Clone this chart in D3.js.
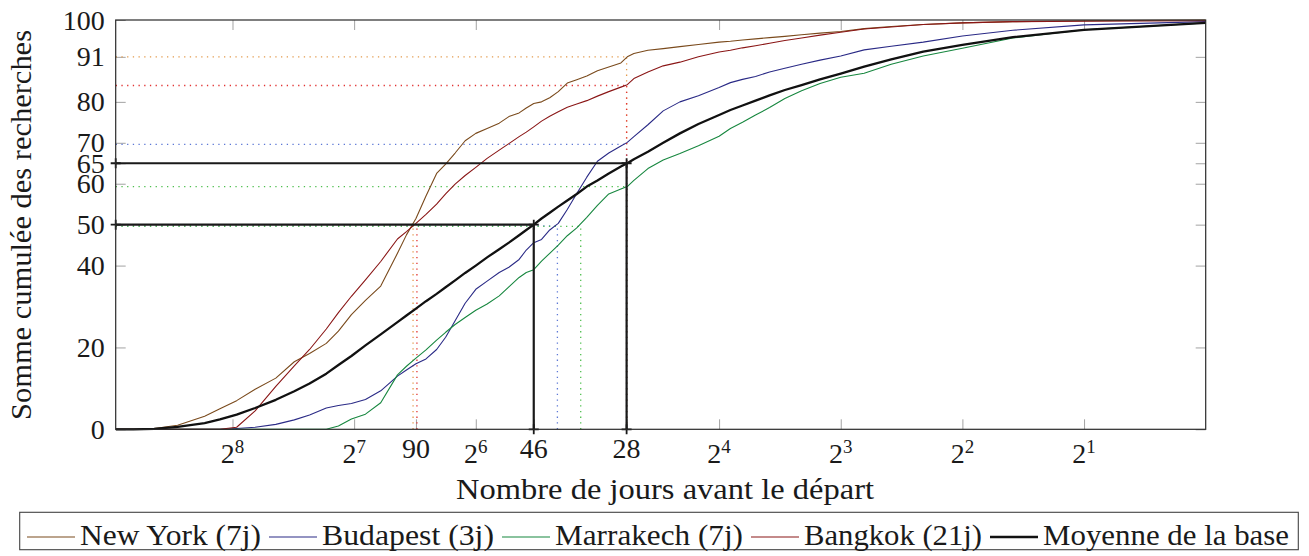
<!DOCTYPE html>
<html>
<head>
<meta charset="utf-8">
<script src="https://cdn.jsdelivr.net/npm/d3@7"></script>
<style>
  body { margin: 0; background: #fff; }
  svg text { font-family: "Liberation Serif", "DejaVu Serif", serif; fill: #1a1a1a; }
</style>
</head>
<body>
<svg id="chart" width="1309" height="556"></svg>
<script>
// Days before departure (shared x grid for every series)
const dayGrid = [1, 2, 3, 4, 5, 6, 7, 8, 9, 10, 11, 12, 13, 14, 15, 16, 18, 20, 22, 24, 26, 27, 28, 30, 32, 34, 36, 38, 40, 42, 44, 46, 48, 50, 53, 56, 60, 64, 68, 72, 76, 80, 85, 90, 95, 100, 110, 120, 130, 140, 150, 165, 180, 200, 225, 250, 275, 300, 350, 400, 450, 498];

// Cumulative share of searches (%) for each destination, aligned with dayGrid
const newYork = [100, 99.8, 99.6, 99.3, 98.9, 98.4, 97.9, 97.2, 96.8, 96.4, 96.0, 95.7, 95.4, 95.1, 94.8, 94.6, 94.0, 93.5, 93.0, 92.6, 91.8, 91.0, 89.5, 88.5, 87.6, 86.3, 85.4, 84.6, 82.5, 81.0, 80.0, 79.6, 78.5, 77.3, 76.4, 74.8, 73.5, 72.3, 70.5, 67.5, 64.8, 62.5, 57.0, 51.5, 47.5, 43.0, 35.0, 31.5, 28.0, 24.0, 21.0, 18.5, 16.5, 12.5, 9.8, 7.0, 5.0, 3.2, 1.0, 0.2, 0, 0];
const budapest = [99.6, 98.8, 97.5, 96.1, 94.6, 93.6, 92.7, 91.2, 90.2, 89.2, 88.2, 87.3, 86.2, 85.5, 84.7, 83.5, 81.5, 80.0, 77.8, 74.4, 71.5, 70.1, 69.2, 67.5, 65.5, 61.6, 57.6, 53.7, 50.3, 48.7, 46.4, 45.6, 43.8, 41.5, 39.6, 38.3, 36.2, 34.2, 30.8, 26.5, 22.5, 19.5, 17.2, 16.0, 14.5, 13.0, 9.4, 7.3, 6.3, 5.8, 5.2, 3.5, 2.3, 1.2, 0.5, 0.2, 0, 0, 0, 0, 0, 0];
const marrakech = [99.3, 97.6, 95.6, 93.1, 91.2, 89.2, 87.0, 86.0, 84.5, 82.7, 80.8, 78.6, 76.8, 75.0, 73.5, 71.6, 69.3, 67.4, 65.8, 63.7, 60.8, 59.3, 58.7, 57.5, 54.7, 51.8, 49.2, 47.3, 45.0, 43.0, 41.1, 39.0, 38.3, 37.1, 34.8, 32.6, 30.6, 29.1, 27.3, 25.6, 23.7, 21.8, 19.4, 17.4, 15.4, 13.3, 6.5, 3.7, 2.5, 0.8, 0, 0, 0, 0, 0, 0, 0, 0, 0, 0, 0, 0];
const bangkok = [99.8, 99.7, 99.6, 99.3, 98.9, 98.3, 97.8, 97.0, 96.3, 95.6, 95.0, 94.3, 93.7, 93.2, 92.6, 92.2, 91.0, 89.7, 88.8, 87.3, 85.7, 84.2, 83.6, 82.5, 81.4, 80.3, 79.5, 78.7, 77.6, 76.5, 75.3, 73.9, 72.6, 71.5, 69.8, 68.2, 66.2, 64.0, 62.0, 59.9, 57.5, 55.0, 52.5, 50.3, 48.3, 46.5, 41.0, 36.5, 32.5, 28.5, 24.5, 19.5, 15.5, 10.5, 4.5, 0.5, 0, 0, 0, 0, 0, 0];
const moyenne = [99.3, 97.6, 95.8, 93.9, 92.3, 90.4, 88.6, 86.9, 85.5, 84.1, 82.9, 81.6, 80.3, 79.1, 78.0, 76.8, 74.6, 72.3, 70.0, 67.8, 66.0, 65.0, 64.2, 62.5, 60.8, 59.3, 57.5, 55.9, 54.4, 52.9, 51.5, 50.0, 48.7, 47.4, 45.6, 44.0, 42.0, 40.0, 38.2, 36.4, 34.7, 33.1, 31.3, 29.5, 27.8, 26.2, 23.2, 20.5, 17.9, 15.7, 13.6, 11.2, 9.3, 7.2, 5.2, 3.6, 2.4, 1.5, 0.6, 0.1, 0, 0];

const seriesNames = ["New York (7j)", "Budapest (3j)", "Marrakech (7j)", "Bangkok (21j)", "Moyenne de la base"];
const seriesValues = [newYork, budapest, marrakech, bangkok, moyenne];
const seriesColors = ["#7a4a1c", "#2a2a86", "#17873f", "#8a1616", "#111111"];
const guideColors = ["#e39a4c", "#5d78d6", "#4fbf4f", "#e23434"];

// Reading guides: day where each destination reaches 50 %, and its share at the 28-day mark
const cityHalfDay = [91.5, 40.2, 35.2, 89.5];
const cityHalfLevel = [50, 49.7, 49.6, 50];
const cityShareAt28 = [91, 69.6, 59.3, 84];
const meanHalfDay = 46;
const meanShareDay = 27.1;
const meanShare = 65;

// Axis ticks
const xPowerExps = [8, 7, 6, 4, 3, 2, 1];
const markDays = [90, 46, 27.1];
const markLabels = ["90", "46", "28"];
const yTicks = [0, 20, 40, 50, 60, 65, 70, 80, 91, 100];

const svg = d3.select("#chart");
const L = 115.7, R = 1205.7, T = 20, B = 429.3;

const x = d3.scaleLog().base(2).domain([498, 1]).range([L, R]);
const y = d3.scaleLinear().domain([0, 100]).range([B, T]);

// tick marks, pointing inward on all four sides
const xTickVals = xPowerExps.map(e => Math.pow(2, e)).concat(markDays);
const tickColor = "#a3a3a3";
const axes = [
  [d3.axisBottom(x).tickValues(xTickVals), `translate(0,${B})`],
  [d3.axisTop(x).tickValues(xPowerExps.map(e => Math.pow(2, e))), `translate(0,${T})`],
  [d3.axisLeft(y).tickValues(yTicks), `translate(${L},0)`],
  [d3.axisRight(y).tickValues(yTicks), `translate(${R},0)`]
];
axes.forEach(([ax, tr]) => {
  const g = svg.append("g").attr("transform", tr)
    .call(ax.tickSize(-10).tickSizeOuter(0).tickFormat(""));
  g.select(".domain").remove();
  g.selectAll(".tick line").attr("stroke", tickColor).attr("stroke-width", 1);
});

// y tick labels
svg.append("g").selectAll("text").data(yTicks).join("text")
  .attr("x", L - 11).attr("y", d => y(d)).attr("dy", "0.34em")
  .attr("text-anchor", "end").attr("font-size", 28).text(d => d);

// x tick labels: powers of two with superscript exponents
const powLabels = svg.append("g").selectAll("text").data(xPowerExps).join("text")
  .attr("x", d => x(Math.pow(2, d))).attr("y", 463.3)
  .attr("text-anchor", "middle").attr("font-size", 28);
powLabels.append("tspan").text("2");
powLabels.append("tspan").attr("dy", -10).attr("font-size", 19).text(d => d);

svg.append("g").selectAll("text").data(markDays).join("text")
  .attr("x", d => x(d)).attr("y", 458.3)
  .attr("text-anchor", "middle").attr("font-size", 28)
  .text((d, i) => markLabels[i]);

// dotted reading guides per destination
const guides = svg.append("g").attr("fill", "none").attr("stroke-width", 1.3)
  .attr("stroke-dasharray", "1.3,4.4");
cityHalfDay.forEach((d, i) => {
  const c = guideColors[i];
  guides.append("line").attr("stroke", c)
    .attr("x1", L).attr("x2", x(d)).attr("y1", y(cityHalfLevel[i])).attr("y2", y(cityHalfLevel[i]));
  guides.append("line").attr("stroke", c)
    .attr("x1", x(d)).attr("x2", x(d)).attr("y1", y(0)).attr("y2", y(cityHalfLevel[i]));
  guides.append("line").attr("stroke", c)
    .attr("x1", L).attr("x2", x(meanShareDay)).attr("y1", y(cityShareAt28[i])).attr("y2", y(cityShareAt28[i]));
  guides.append("line").attr("stroke", c)
    .attr("x1", x(meanShareDay)).attr("x2", x(meanShareDay)).attr("y1", y(0)).attr("y2", y(cityShareAt28[i]));
});

// curves
const clip = svg.append("clipPath").attr("id", "plotclip").append("rect")
  .attr("x", L).attr("y", T - 2).attr("width", R - L).attr("height", B - T + 4);
const line = d3.line().x(d => x(d[0])).y(d => y(d[1]));
const curves = svg.append("g").attr("clip-path", "url(#plotclip)").attr("fill", "none");
[0, 1, 2, 3].forEach(i => {
  curves.append("path")
    .attr("d", line(dayGrid.map((d, k) => [d, seriesValues[i][k]])))
    .attr("stroke", seriesColors[i]).attr("stroke-width", 1.1).attr("stroke-linejoin", "round");
});

// mean-curve reading lines with "+" marks
const meanGuides = svg.append("g").attr("stroke", "#1a1a1a").attr("stroke-width", 2.2).attr("fill", "none");
const pathsMean = [
  [[L, y(meanShare)], [x(meanShareDay), y(meanShare)], [x(meanShareDay), y(0)]],
  [[L, y(50)], [x(meanHalfDay), y(50)], [x(meanHalfDay), y(0)]]
];
pathsMean.forEach(pts => {
  meanGuides.append("path").attr("d", d3.line()(pts));
  pts.forEach(p => {
    meanGuides.append("path").attr("stroke-width", 1.8)
      .attr("d", `M${p[0] - 5},${p[1]}H${p[0] + 5}M${p[0]},${p[1] - 5}V${p[1] + 5}`);
  });
});

curves.append("path")
  .attr("d", line(dayGrid.map((d, k) => [d, moyenne[k]])))
  .attr("stroke", seriesColors[4]).attr("stroke-width", 2.3).attr("stroke-linejoin", "round");

// frame
svg.append("rect").attr("x", L).attr("y", T).attr("width", R - L).attr("height", B - T)
  .attr("fill", "none").attr("stroke", "#2a2a2a").attr("stroke-width", 1.2);

// axis titles
svg.append("text").attr("x", 665).attr("y", 499).attr("text-anchor", "middle")
  .attr("font-size", 28.5).attr("textLength", 418).attr("lengthAdjust", "spacingAndGlyphs")
  .text("Nombre de jours avant le départ");
svg.append("text").attr("transform", "translate(31,225) rotate(-90)").attr("text-anchor", "middle")
  .attr("font-size", 28.5).attr("textLength", 390).attr("lengthAdjust", "spacingAndGlyphs")
  .text("Somme cumulée des recherches");

// legend
const legendWidths = [181, 172, 188, 178, 246];
svg.append("rect").attr("x", 19.7).attr("y", 512.3).attr("width", 1278.6).attr("height", 37.4)
  .attr("fill", "#fff").attr("stroke", "#444").attr("stroke-width", 1.1);
let lx = 27;
seriesNames.forEach((name, i) => {
  svg.append("line").attr("x1", lx).attr("x2", lx + 48).attr("y1", 537).attr("y2", 537)
    .attr("stroke", seriesColors[i]).attr("stroke-width", i === 4 ? 2.3 : 1.1);
  svg.append("text").attr("x", lx + 53).attr("y", 545).attr("font-size", 28.5)
    .attr("textLength", legendWidths[i]).attr("lengthAdjust", "spacingAndGlyphs").text(name);
  lx += 53 + legendWidths[i] + 8;
});
</script>
</body>
</html>
